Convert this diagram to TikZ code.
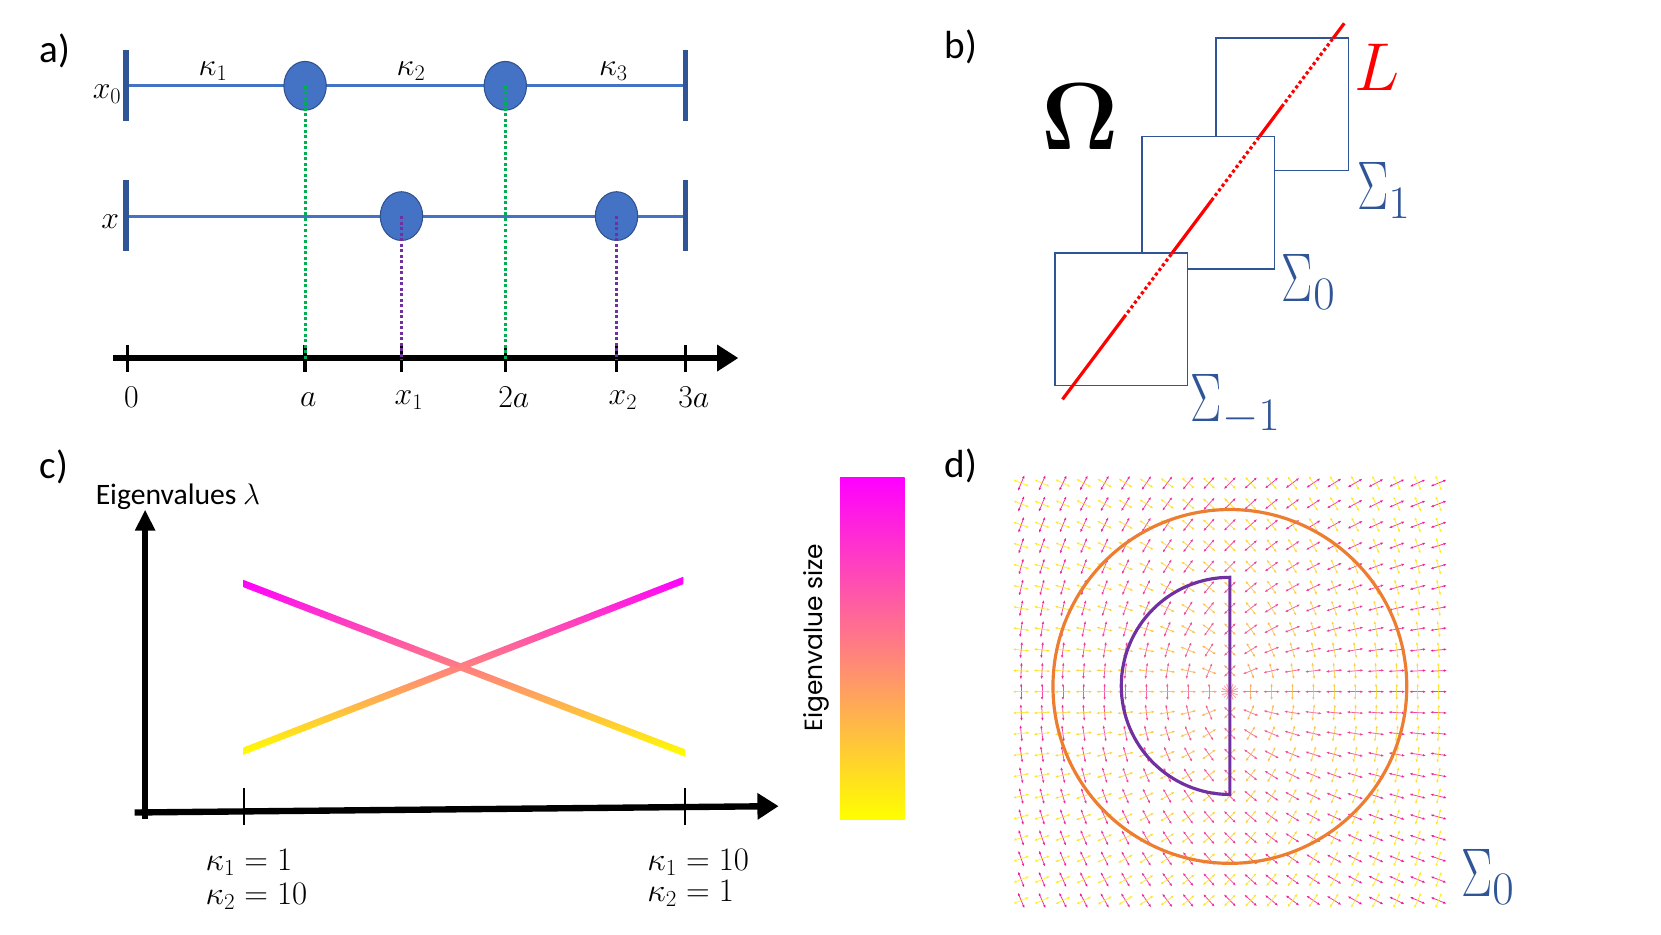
\RequirePackage{fix-cm}
\documentclass[tikz,border=0pt]{standalone}
\usepackage{amsmath}
\usepackage[no-math]{fontspec}
\setmainfont{Carlito}
\newfontfamily\gothic{Poppins}
\usepackage{graphicx}
\usetikzlibrary{arrows.meta,shapes.geometric,calc}
\definecolor{lineblue}{HTML}{4472C4}
\definecolor{darkblue}{HTML}{2F5597}
\definecolor{circedge}{HTML}{2F528F}
\definecolor{mygreen}{HTML}{00B050}
\definecolor{mypurple}{HTML}{7030A0}
\definecolor{myorange}{HTML}{ED7D31}
\definecolor{mysalmon}{HTML}{FF8080}
\newcommand\nSig{\scalebox{0.68}[1]{$\Sigma$}}
\newcommand\sgsub[1]{\raisebox{-8pt}{\fontsize{44}{44}\selectfont$#1$}}
\begin{document}
\begin{tikzpicture}[x=1pt,y=-1pt,
  panellabel/.style={font=\fontsize{37}{39}\selectfont, inner sep=0},
  mathlabel/.style={font=\fontsize{30}{32}\selectfont, inner sep=0},
  klabel/.style={font=\fontsize{31}{33}\selectfont, inner sep=0, anchor=west},
  chain/.style={lineblue, line width=3},
  endbar/.style={darkblue, line width=5},
  bead/.style={ellipse, fill=lineblue, draw=circedge, line width=1, minimum width=40, minimum height=46, inner sep=0},
  gdots/.style={mygreen, line width=2.8, dash pattern=on 2.8 off 2.4},
  pdots/.style={mypurple, line width=2.8, dash pattern=on 2.8 off 2.4},
  axisline/.style={line width=6, -{Triangle[length=20,width=24]}},
  tickmark/.style={line width=3},
  sq/.style={draw=darkblue, fill=white, line width=1.5},
  redsolid/.style={red, line width=3},
  reddots/.style={red, line width=3, dash pattern=on 3 off 2.5},
  siglabel/.style={darkblue, font=\fontsize{65}{67}\selectfont, inner sep=0, anchor=west},
  fieldarrow/.style={line width=0.75, opacity=0.8, {Latex[length=3,width=2.5]}-{Latex[length=3,width=2.5]}},
]
\useasboundingbox (0,0) rectangle (1568,882);

% ---------------- panel a ----------------
\node[panellabel] (la) at (52,48) {a)};
\coordinate (tL) at (119,81); \coordinate (tR) at (647,81);
\coordinate (bL) at (119,204); \coordinate (bR) at (647,204);
\draw[chain] (tL) -- (tR);
\draw[chain] (bL) -- (bR);
\draw[endbar] (119,47) -- (119,114);
\draw[endbar] (647,47) -- (647,114);
\draw[endbar] (119,170) -- (119,237);
\draw[endbar] (647,170) -- (647,237);
\node[bead] (p1) at (288,81) {};
\node[bead] (p2) at (477,81) {};
\node[bead] (q1) at (379,204) {};
\node[bead] (q2) at (582,204) {};
\node[mathlabel] (k1) at (201,67) {$\kappa_1$};
\node[mathlabel] (k2) at (388,67) {$\kappa_2$};
\node[mathlabel] (k3) at (579,67) {$\kappa_3$};
\node[mathlabel] (lx0) at (101,89) {$x_0$};
\node[mathlabel] (lx) at (104,209) {$x$};
\coordinate (axS) at (107,338); \coordinate (axE) at (697,338);
\draw[axisline] (axS) -- (axE);
\foreach \t in {120,288,379,477,582,647} \draw[tickmark] (\t,326) -- (\t,351);
\coordinate (ta) at (288,340); \coordinate (t2a) at (477,340);
\coordinate (tx1) at (379,340); \coordinate (tx2) at (582,340);
\draw[gdots] (p1.center) -- (ta);
\draw[gdots] (p2.center) -- (t2a);
\draw[pdots] (q1.center) -- (tx1);
\draw[pdots] (q2.center) -- (tx2);
\node[mathlabel] (n0) at (124,375) {$0$};
\node[mathlabel] (na) at (291,377) {$a$};
\node[mathlabel] (nx1) at (386,378) {$x_1$};
\node[mathlabel] (n2a) at (485,375) {$2a$};
\node[mathlabel] (nx2) at (588,378) {$x_2$};
\node[mathlabel] (n3a) at (655,375) {$3a$};

% ---------------- panel b ----------------
\node[panellabel] (lb) at (907,44) {b)};
\draw[sq] (1148,36) rectangle (1273,161);
\draw[sq] (1078,129) rectangle (1203,254);
\draw[sq] (996,239) rectangle (1121,364);
\coordinate (rA) at (1003,377); \coordinate (rB) at (1269,22);
\draw[redsolid] (rA) -- ($(rA)!0.218!(rB)$);
\draw[reddots] ($(rA)!0.218!(rB)$) -- ($(rA)!0.387!(rB)$);
\draw[redsolid] ($(rA)!0.387!(rB)$) -- ($(rA)!0.529!(rB)$);
\draw[reddots] ($(rA)!0.529!(rB)$) -- ($(rA)!0.698!(rB)$);
\draw[redsolid] ($(rA)!0.698!(rB)$) -- ($(rA)!0.778!(rB)$);
\draw[reddots] ($(rA)!0.778!(rB)$) -- ($(rA)!0.96!(rB)$);
\draw[redsolid] ($(rA)!0.96!(rB)$) -- (rB);
\node[font=\fontsize{90}{92}\selectfont, inner sep=0] (om) at (1020,110) {$\boldsymbol{\Omega}$};
\node[red, font=\fontsize{64}{66}\selectfont, inner sep=0] (lL) at (1300,64) {$L$};
\node[siglabel] (s1) at (1281,180) {\nSig\sgsub{1}};
\node[siglabel] (s0) at (1210,266) {\nSig\sgsub{0}};
\node[siglabel] (sm1) at (1124,382) {\nSig\sgsub{-1}};

% ---------------- panel c ----------------
\node[panellabel] (lc) at (51,441) {c)};
\node[font=\fontsize{28}{30}\selectfont, inner sep=0] (ev) at (168,469) {Eigenvalues $\lambda$};
\coordinate (yS) at (137,773); \coordinate (yE) at (137,481);
\draw[line width=5, -{Triangle[length=20,width=18]}] (yS) -- (yE);
\coordinate (xS) at (127,767); \coordinate (xE) at (735,761);
\draw[axisline] (xS) -- (xE);
\draw[line width=2] (230,744) -- (230,779);
\draw[line width=2] (647,744) -- (647,779);
\shade[top color=magenta, bottom color=yellow] (230,547.5) -- (647,707.5) -- (647,714.5) -- (230,554.5) -- cycle;
\shade[top color=magenta, bottom color=yellow] (230,705.5) -- (645,544.5) -- (645,551.5) -- (230,712.5) -- cycle;
\shade[top color=magenta, bottom color=yellow] (793,451) rectangle (854,774);
\node[rotate=90, font=\gothic\fontsize{23.5}{25}\selectfont, inner sep=0] (evs) at (771,602) {Eigenvalue size};
\node[klabel] (c1) at (194,814) {$\kappa_1 = 1$};
\node[klabel] (c2) at (194,846) {$\kappa_2 = 10$};
\node[klabel] (c3) at (611,814) {$\kappa_1 = 10$};
\node[klabel] (c4) at (611,843) {$\kappa_2 = 1$};

% ---------------- panel d ----------------
\node[panellabel] (ld) at (907,440) {d)};
\begin{scope}[shift={(1161,653)}, y={(0pt,1pt)}]
\foreach \i in {-10,...,10}{
  \foreach \j in {-10,...,10}{
    \pgfmathsetmacro\X{19.7*\i}
    \pgfmathsetmacro\Y{19.7*\j}
    \pgfmathsetmacro\rr{veclen(\X,\Y)}
    \ifdim\rr pt>0.1pt
      \pgfmathsetmacro\ph{atan2(\Y,\X)/2}
      \pgfmathtruncatemacro\pa{50+50*sqrt(\rr/278.6)}
      \pgfmathtruncatemacro\pb{100-\pa}
      \pgfmathsetmacro\cx{8*cos(\ph)}
      \pgfmathsetmacro\cy{8*sin(\ph)}
      \draw[fieldarrow, magenta!\pa!yellow] (\X-\cx,\Y-\cy) -- (\X+\cx,\Y+\cy);
      \draw[fieldarrow, magenta!\pb!yellow] (\X+\cy,\Y-\cx) -- (\X-\cy,\Y+\cx);
    \fi
  }}
\foreach \a in {0,22.5,...,157.5}
  \draw[mysalmon, line width=0.8, opacity=0.8] (\a:8) -- (\a+180:8);
\end{scope}
\coordinate (dC) at (1161,648);
\draw[myorange, line width=3] (dC) circle[radius=167];
\draw[mypurple, line width=3] (1161,545) arc[start angle=270, end angle=90, radius=102.5] -- cycle;
\node[siglabel] (sd) at (1379,828) {\nSig\sgsub{0}};
\end{tikzpicture}
\end{document}
